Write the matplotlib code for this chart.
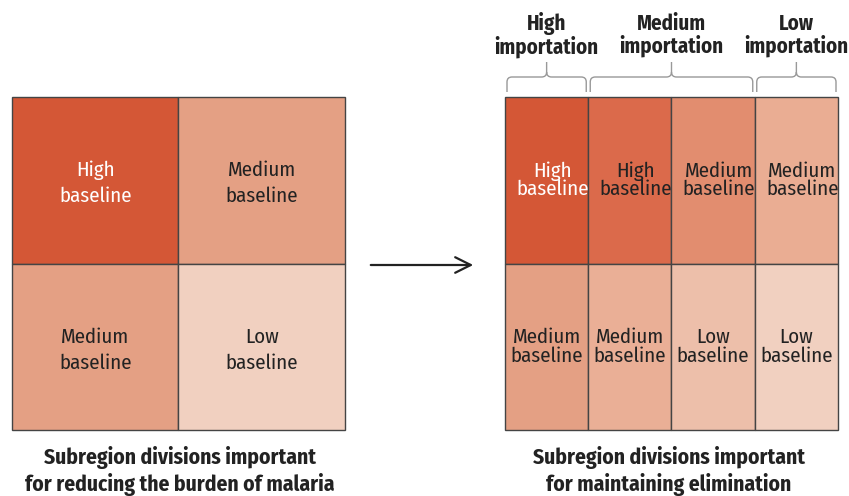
import matplotlib
matplotlib.use("Agg")
import matplotlib.pyplot as plt
import matplotlib.patches as mpatches
from matplotlib.path import Path

plt.rcParams["font.family"] = ["Fira Sans Condensed", "Roboto Condensed", "DejaVu Sans"]

# left panel: 2x2 subregions (row-major, top row first)
left_labels = [["High\nbaseline", "Medium\nbaseline"],
               ["Medium\nbaseline", "Low\nbaseline"]]
left_colors = [["#D45736", "#E4A084"],
               ["#E4A084", "#F1D0C0"]]

# right panel: 2x4 subregions
right_labels = [["High\nbaseline", "High\nbaseline", "Medium\nbaseline", "Medium\nbaseline"],
                ["Medium\nbaseline", "Medium\nbaseline", "Low\nbaseline", "Low\nbaseline"]]
right_colors = [["#D45736", "#DB6A4B", "#E28D6F", "#EAAD93"],
                ["#E4A084", "#EAAF96", "#EDBFAA", "#F1D0C0"]]

# importation groups over the right panel columns
import_labels = ["High\nimportation", "Medium\nimportation", "Low\nimportation"]
import_spans = [(0, 1), (1, 3), (3, 4)]

captions = ["Subregion divisions important\nfor reducing the burden of malaria",
            "Subregion divisions important\nfor maintaining elimination"]

W, H = 849, 496
fig = plt.figure(figsize=(W / 100, H / 100), dpi=100)
ax = fig.add_axes([0, 0, 1, 1])
ax.set_xlim(0, W)
ax.set_ylim(H, 0)
ax.axis("off")


def draw_grid(x0, y0, size, labels, colors, linespacing, ty=0.5, dx=0):
    nrow, ncol = len(labels), len(labels[0])
    cw, ch = size / ncol, size / nrow
    for r in range(nrow):
        for c in range(ncol):
            ax.add_patch(mpatches.Rectangle((x0 + c * cw, y0 + r * ch), cw, ch,
                                            facecolor=colors[r][c], edgecolor="#444444",
                                            linewidth=1))
            tc = "white" if colors[r][c] == "#D45736" else "#222222"
            shift = dx if r == 0 else 0
            ax.text(x0 + (c + 0.5) * cw + shift, y0 + (r + ty) * ch, labels[r][c],
                    ha="center", va="center", fontsize=15, color=tc,
                    linespacing=linespacing)
    return cw


def brace(xa, xb, ybot, ymid, ytop, rad=5):
    xc = (xa + xb) / 2
    verts = [(xa, ybot), (xa, ymid + rad), (xa, ymid), (xa + rad, ymid),
             (xc - rad, ymid), (xc, ymid), (xc, ymid - rad), (xc, ytop),
             (xc, ymid - rad), (xc, ymid), (xc + rad, ymid),
             (xb - rad, ymid), (xb, ymid), (xb, ymid + rad), (xb, ybot)]
    codes = [Path.MOVETO, Path.LINETO, Path.CURVE3, Path.CURVE3,
             Path.LINETO, Path.CURVE3, Path.CURVE3, Path.LINETO,
             Path.MOVETO, Path.CURVE3, Path.CURVE3,
             Path.LINETO, Path.CURVE3, Path.CURVE3, Path.LINETO]
    ax.add_patch(mpatches.PathPatch(Path(verts, codes), facecolor="none",
                                    edgecolor="#999999", linewidth=1))


size = 333
draw_grid(12, 97, size, left_labels, left_colors, 1.4, ty=0.52)
cw = draw_grid(505, 97, size, right_labels, right_colors, 0.95, ty=0.5, dx=6)

for lab, (a, b) in zip(import_labels, import_spans):
    xa, xb = 505 + a * cw + 2, 505 + b * cw - 2
    brace(xa, xb, 92, 77, 62)
    ax.text((xa + xb) / 2, 35, lab, ha="center", va="center", fontsize=15,
            fontweight="bold", color="#222222", linespacing=1.0)

ax.annotate("", xy=(476, 265), xytext=(368, 265),
            arrowprops=dict(arrowstyle="->", color="#222222", lw=1.6,
                            mutation_scale=28))

for cx, cap in zip([180, 669], captions):
    ax.text(cx, 471, cap, ha="center", va="center", fontsize=15.5,
            fontweight="bold", color="#222222", linespacing=1.25)

fig.savefig("out.png", dpi=100)
